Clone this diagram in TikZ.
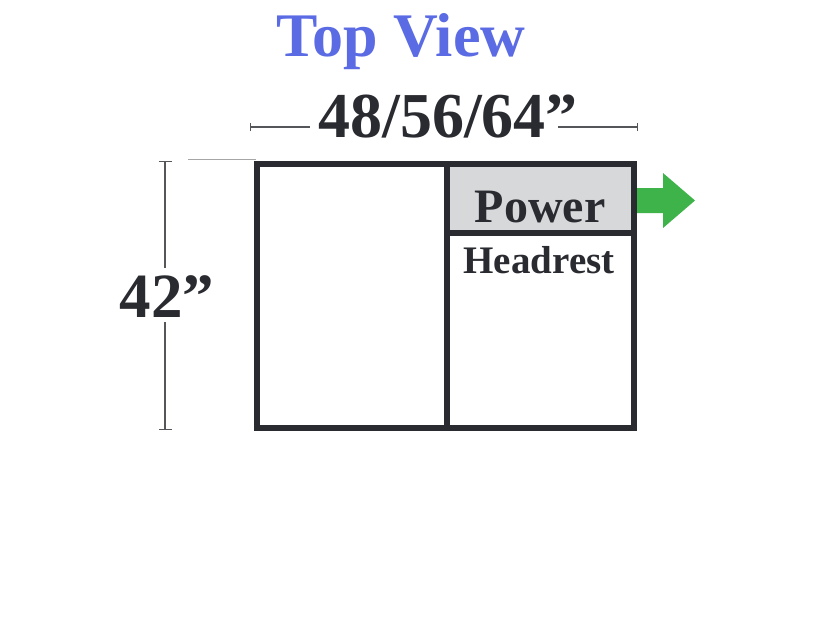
\documentclass[tikz,border=0pt]{standalone}
\usepackage{fontspec}
\setmainfont{Liberation Serif}
\usetikzlibrary{positioning,arrows.meta}

\definecolor{viewblue}{HTML}{5A6BE4}
\definecolor{frameink}{HTML}{2A2B30}
\definecolor{powergray}{HTML}{D6D8DA}
\definecolor{arrowgreen}{HTML}{3DB34A}
\definecolor{dimgray}{HTML}{55565A}

\begin{document}
\begin{tikzpicture}[
        x=1pt,y=-1pt,
        frame/.style={draw=frameink,line width=6.5pt},
        dimline/.style={draw=dimgray,line width=1.3pt},
        label/.style={text=frameink,inner sep=0pt,anchor=base}
    ]
        \useasboundingbox (0,0) rectangle (825,625);

        % Title
        \node[label,text=viewblue,font=\fontsize{62}{62}\selectfont\bfseries] (title) at (401,56) {Top View};

        % Width dimension
        \node[label,font=\fontsize{64}{64}\selectfont\bfseries] (width) at (448,137) {48/56/64”};
        \coordinate (wl) at (250,127);
        \coordinate (wlend) at (310,127);
        \coordinate (wrstart) at (558,127);
        \coordinate (wr) at (638,127);
        \draw[dimline,{Bar[width=8pt]}-] (wl) -- (wlend);
        \draw[dimline,-{Bar[width=8pt]}] (wrstart) -- (wr);

        % Depth dimension
        \node[label,font=\fontsize{63}{63}\selectfont\bfseries] (depth) at (167,317) {42”};
        \coordinate (dt) at (165,161);
        \coordinate (dtend) at (165,268);
        \coordinate (dbstart) at (165,322);
        \coordinate (db) at (165,430);
        \draw[dimline,{Bar[width=13pt]}-] (dt) -- (dtend);
        \draw[dimline,-{Bar[width=13pt]}] (dbstart) -- (db);
        \draw[draw=gray!70,line width=0.8pt] (188,159) -- (256,159);

        % Frame
        \fill[powergray] (450,167) rectangle (631,230);
        \draw[frame] (257,164) rectangle (634,428);
        \draw[frame] (447,164) -- (447,428);
        \draw[frame] (447,233) -- (634,233);

        % Labels
        \node[label,font=\fontsize{48}{48}\selectfont\bfseries] (power) at (540,222) {Power};
        \node[label,font=\fontsize{39}{39}\selectfont\bfseries] (headrest) at (539,273) {Headrest};

        % Arrow
        \fill[arrowgreen] (637,188) -- (663,188) -- (663,173) -- (695,200.5)
            -- (663,228) -- (663,213) -- (637,213) -- cycle;
    \end{tikzpicture}
\end{document}
